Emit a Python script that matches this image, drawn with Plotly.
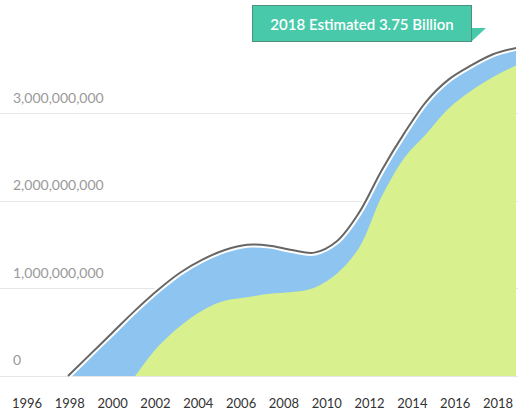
import plotly.graph_objects as go

years = list(range(1998, 2019))
# values in billions
total_b = [0.0, 0.25, 0.50, 0.75, 0.98, 1.18, 1.33, 1.44, 1.50, 1.49, 1.44, 1.41,
           1.54, 1.87, 2.35, 2.77, 3.14, 3.39, 3.55, 3.68, 3.75]
green_years = list(range(2001, 2019))
green_b = [0.0, 0.33, 0.57, 0.75, 0.86, 0.90, 0.94, 0.96, 1.01,
           1.17, 1.47, 2.05, 2.49, 2.77, 3.06, 3.26, 3.42, 3.55]
label_years = list(range(1996, 2019, 2))
y_ticks = [0, 1_000_000_000, 2_000_000_000, 3_000_000_000]
callout_text = "2018 Estimated 3.75 Billion"

total = [v * 1e9 for v in total_b]
green = [v * 1e9 for v in green_b]

fig = go.Figure()
fig.add_trace(go.Scatter(x=years, y=total, fill="tozeroy", mode="lines",
                         line=dict(width=0, shape="spline", color="#8ec5f0"),
                         fillcolor="#8ec5f0", hoverinfo="skip"))
fig.add_trace(go.Scatter(x=green_years, y=green, fill="tozeroy", mode="lines",
                         line=dict(width=0, shape="spline", color="#d8f08e"),
                         fillcolor="#d8f08e", hoverinfo="skip"))
fig.add_trace(go.Scatter(x=years, y=total, mode="lines",
                         line=dict(width=6, shape="spline", color="white"),
                         hoverinfo="skip"))
fig.add_trace(go.Scatter(x=years, y=total, mode="lines",
                         line=dict(width=2, shape="spline", color="#666666"),
                         hoverinfo="skip"))
# invisible carriers for the label axes
fig.add_trace(go.Scatter(x=label_years, y=[0] * len(label_years), xaxis="x2",
                         mode="markers", marker=dict(size=0, opacity=0),
                         hoverinfo="skip"))
fig.add_trace(go.Scatter(x=[years[0]] * len(y_ticks), y=y_ticks, yaxis="y2",
                         mode="markers", marker=dict(size=0, opacity=0),
                         hoverinfo="skip"))

y_range = [-0.0229e9, 4.069e9]
fig.update_layout(
    width=528, height=417,
    margin=dict(l=0, r=10, t=20, b=39),
    paper_bgcolor="white", plot_bgcolor="white",
    showlegend=False,
    font=dict(family="Lato", size=13, color="#444"),
    xaxis=dict(range=[1994.964, 2018.089], showticklabels=False, showgrid=False,
               zeroline=False, showline=False, ticks=""),
    xaxis2=dict(overlaying="x", anchor="y", side="bottom",
                range=[1994.739, 2018.934], tickvals=label_years,
                ticktext=[str(y) for y in label_years],
                showgrid=False, zeroline=False, showline=False, ticks="",
                ticklabelstandoff=16, automargin=False,
                tickfont=dict(family="Lato", size=13, color="#333")),
    yaxis=dict(range=y_range, tickvals=y_ticks, showticklabels=False,
               showgrid=True, gridcolor="#e6e6e6", gridwidth=1,
               zeroline=False, showline=False, ticks=""),
    yaxis2=dict(overlaying="y", anchor="free", position=0, side="right",
                range=y_range, tickvals=y_ticks, tickformat=",d",
                ticklabelposition="outside top", showgrid=False,
                zeroline=False, showline=False, ticks="", automargin=False,
                ticklabelstandoff=12, ticklabelshift=-6,
                tickfont=dict(family="Lato", size=14, color="#999999")),
)

fig.add_annotation(
    xref="paper", yref="paper", x=362 / 518, y=(378 - 23.5) / 358,
    xanchor="center", yanchor="middle", showarrow=False,
    text=callout_text, width=218, height=35, borderpad=0,
    bgcolor="#48c9a9", bordercolor="#4f8f7f", borderwidth=1,
    font=dict(family="Lato", size=15, color="white", weight=600),
)
fig.add_shape(type="path", xref="paper", yref="paper",
              path=f"M {471/518} {(378-28)/358} L {486/518} {(378-28)/358} L {472/518} {(378-41)/358} Z",
              fillcolor="#48c9a9", line=dict(width=0))

fig.write_html("out.html", config={"displayModeBar": False},
               post_script="document.body.style.margin='0';")
